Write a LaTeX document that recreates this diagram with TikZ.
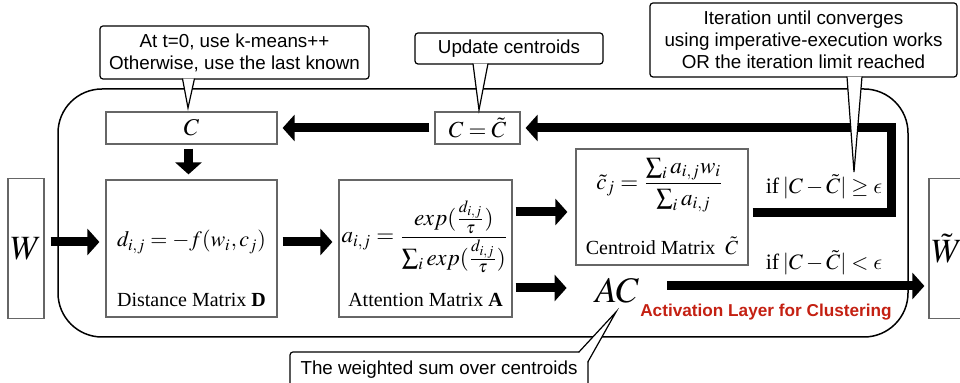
\documentclass[tikz,border=0pt]{standalone}
\usepackage{mathptmx}
\usepackage[no-math]{fontspec}
\setmainfont{Liberation Serif}
\setsansfont{Liberation Sans}
\DeclareSymbolFont{cmletters}{OML}{cmm}{m}{it}
\DeclareMathSymbol{\lunateeps}{\mathord}{cmletters}{"0F}
\usetikzlibrary{calc,arrows.meta}
\definecolor{actred}{RGB}{196,32,18}
\begin{document}
\begin{tikzpicture}[x=0.5pt,y=-0.5pt,
  frame/.style={draw=black,line width=0.75pt,rounded corners=22pt,inner sep=0pt,rectangle},
  mbox/.style={draw=black!60,line width=0.6pt,inner sep=0pt,rectangle,fill=white},
  bigarrow/.style={line width=4.5pt,-{Triangle[length=6pt,width=13pt]},line join=miter},
  callout/.style={draw=black,line width=0.6pt,fill=white,rounded corners=1.5pt,align=center,
    font=\sffamily\fontsize{9.4}{11}\selectfont,inner sep=0pt},
  ptr/.style={draw=black,line width=0.6pt,fill=white,line join=miter},
  lbl/.style={font=\fontsize{10}{12}\selectfont,inner sep=0pt},
  mth/.style={font=\fontsize{11}{13}\selectfont,inner sep=0pt}]
\useasboundingbox (0,0) rectangle (960,383);

% outer frame
\node[frame,minimum width=425pt,minimum height=124pt] (frame) at (483,213) {};

% boxes
\node[mbox,minimum width=85.5pt,minimum height=16pt,font=\fontsize{12}{14}\selectfont] (C) at (191.5,128) {$C$};
\node[mbox,minimum width=42.5pt,minimum height=16pt,font=\fontsize{11.5}{13}\selectfont] (CC) at (477.5,128) {$C=\tilde{C}$};
\node[mbox,minimum width=18pt,minimum height=70pt,font=\fontsize{17}{20}\selectfont] (W) at (26,248.5) {$W$};
\node[mbox,minimum width=18pt,minimum height=70pt,font=\fontsize{17}{20}\selectfont] (Wt) at (947,248.5) {$\tilde{W}$};
\node[mbox,minimum width=85.5pt,minimum height=68.5pt] (D) at (191.5,248.5) {};
\node[mbox,minimum width=86.5pt,minimum height=68.5pt] (A) at (425.5,248.5) {};
\node[mbox,minimum width=86pt,minimum height=58pt] (Cent) at (662,207) {};

% box contents
\node[mth] (Df) at (191.5,242) {$d_{i,j} = -f(w_i, c_j)$};
\node[lbl] (Dl) at (191.5,300) {Distance Matrix \textbf{D}};
\node[mth,font=\fontsize{11.5}{13}\selectfont] (Af) at (425,237) {$\displaystyle a_{i,j} = \frac{exp(\frac{d_{i,j}}{\tau})}{\sum_i exp(\frac{d_{i,j}}{\tau})}$};
\node[lbl] (Al) at (425.5,300) {Attention Matrix \textbf{A}};
\node[mth,font=\fontsize{11.5}{13}\selectfont] (Cf) at (660,185) {$\displaystyle \tilde{c}_j = \frac{\sum_i a_{i,j} w_i}{\sum_i a_{i,j}}$};
\node[lbl] (Cl) at (662,246) {Centroid Matrix \ $\tilde{C}$};

% AC and labels
\node[inner sep=0pt,minimum width=50pt,font=\fontsize{18}{20}\selectfont] (AC) at (617,291) {$AC$};
\node[inner sep=0pt,font=\fontsize{11}{13}\selectfont] (ge) at (824,187) {if\,$|C-\tilde{C}|\geq\lunateeps$};
\node[inner sep=0pt,font=\fontsize{11}{13}\selectfont] (lt) at (824,263) {if\,$|C-\tilde{C}|<\lunateeps$};
\node[inner sep=0pt,text=actred,font=\sffamily\bfseries\fontsize{8.6}{10}\selectfont] (actl) at (766,312) {Activation Layer for Clustering};

% arrows
\coordinate (loop) at (891,128);
\draw[bigarrow] ([xshift=3pt,yshift=3.25pt]W.east) -- ([xshift=-3pt,yshift=3.25pt]D.west);
\draw[bigarrow] ([xshift=2.5pt,yshift=3.25pt]D.east) -- ([xshift=-3pt,yshift=3.25pt]A.west);
\draw[bigarrow] ($(A.east |- Cent.west)+(3,5)$) -- ($(Cent.west)+(-8,5)$);
\draw[bigarrow] ($(A.east |- AC.west)+(3,-3)$) -- ($(AC.west)+(0,-3)$);
\draw[bigarrow] ($(AC.east)+(0,-5)$) -- ($(Wt.west |- AC.east)+(-4,-5)$);
\draw[bigarrow] ($(Cent.east)+(4,6)$) -| (loop) -- ($(CC.east)+(5,0)$);
\draw[bigarrow] ($(CC.west)+(-5,0)$) -- ($(C.east)+(5,0)$);
\draw[bigarrow] ($(C.south)+(-3,4)$) -- ($(D.north)+(-3,-5)$);

% callouts
\node[callout,minimum width=134.5pt,minimum height=26.5pt] (co1) at (234.5,52.5) {At t=0, use k-means++\\Otherwise, use the last known};
\coordinate (t1) at (188,108);
\path[ptr] ($(co1.south)+(-52,-1)$) -- (t1) -- ($(co1.south)+(-40,-1)$);

\node[callout,minimum width=94pt,minimum height=15.5pt] (co2) at (509,48.5) {Update centroids};
\coordinate (t2) at (479,110);
\path[ptr] ($(co2.south)+(-36,-1)$) -- (t2) -- ($(co2.south)+(-21,-1)$);

\node[callout,minimum width=153.5pt,minimum height=37pt] (co3) at (803.5,40) {Iteration until converges\\using imperative-execution works\\OR the iteration limit reached};
\coordinate (t3) at (854,172);
\path[ptr] ($(co3.south)+(43.5,-1)$) -- (t3) -- ($(co3.south)+(58.5,-1)$);

\node[callout,minimum width=149pt,minimum height=18pt] (co4) at (439,370) {The weighted sum over centroids};
\coordinate (t4) at (616,312);
\path[ptr] ($(co4.north east)+(-10,1)$) -- (t4) -- ($(co4.north east)+(-1,11)$);
\end{tikzpicture}
\end{document}
